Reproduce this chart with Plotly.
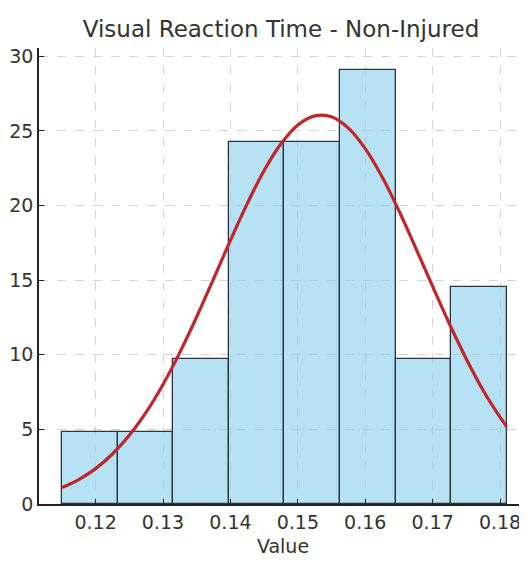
import plotly.graph_objects as go

# histogram (density)
bin_edges = [0.115, 0.12325, 0.1315, 0.13975, 0.148, 0.15625, 0.1645, 0.17275, 0.181]
density = [4.85, 4.85, 9.7, 24.25, 24.25, 29.1, 9.7, 14.55]

# fitted normal curve
curve_x = [0.115, 0.1175, 0.12, 0.1225, 0.125, 0.1275, 0.13, 0.1325, 0.135, 0.1375,
           0.14, 0.1425, 0.145, 0.1475, 0.15, 0.1525, 0.155, 0.1575, 0.16, 0.1625,
           0.165, 0.1675, 0.17, 0.1725, 0.175, 0.1775, 0.18, 0.181]
curve_y = [1.10, 1.64, 2.37, 3.35, 4.60, 6.15, 8.01, 10.16, 12.55, 15.09,
           17.67, 20.13, 22.35, 24.14, 25.40, 26.01, 25.95, 25.19, 23.82, 21.93,
           19.65, 17.15, 14.58, 12.06, 9.72, 7.61, 5.82, 5.18]

x_ticks = [0.12, 0.13, 0.14, 0.15, 0.16, 0.17, 0.18]
y_ticks = [0, 5, 10, 15, 20, 25, 30]

FONT = "DejaVu Sans, sans-serif"

fig = go.Figure()

# Barras del histograma
fig.add_trace(go.Bar(
    x=bin_edges[:-1],
    y=density,
    width=[b - a for a, b in zip(bin_edges[:-1], bin_edges[1:])],
    offset=0,
    marker=dict(color="rgba(135,206,235,0.6)", line=dict(color="#2b3540", width=1.3)),
    showlegend=False,
))

# Curva normal
fig.add_trace(go.Scatter(
    x=curve_x, y=curve_y,
    mode="lines",
    line=dict(color="#c0262c", width=3.2, shape="spline"),
    showlegend=False,
))

# la página tiene 8px de margen: la figura se ajusta a 519x561
fig.update_layout(
    width=519, height=561,
    paper_bgcolor="white", plot_bgcolor="white",
    font=dict(family=FONT, color="#333", size=19),
    title=dict(text="Visual Reaction Time - Non-Injured", x=0.526, xanchor="center",
               y=0.962, yanchor="middle", font=dict(size=23, color="#333")),
    margin=dict(l=31, r=0, t=40, b=65),
    bargap=0,
    xaxis=dict(
        range=[0.1116, 0.1840], tickvals=x_ticks, tickformat=".2f",
        showline=True, linecolor="#222", linewidth=1.5,
        ticks="inside", ticklen=5, tickcolor="#222",
        showgrid=True, gridcolor="#d4d4d4", griddash="dash", gridwidth=1,
        zeroline=False, automargin=False,
        title=dict(text="Value", font=dict(size=19), standoff=8),
    ),
    yaxis=dict(
        range=[0, 30.56], tickvals=y_ticks,
        showline=True, linecolor="#222", linewidth=1.5,
        ticks="inside", ticklen=5, tickcolor="#222",
        showgrid=True, gridcolor="#d4d4d4", griddash="dash", gridwidth=1.2,
        zeroline=False, automargin=False,
    ),
)

fig.write_html("out.html")
